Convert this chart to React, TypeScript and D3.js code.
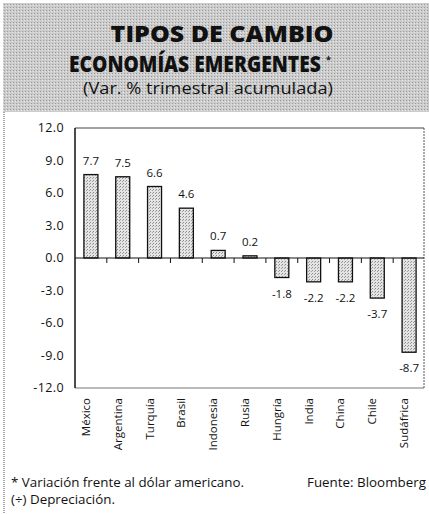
import React, { useLayoutEffect, useRef, useState } from "react";
import * as d3 from "d3";

const categories = ["México", "Argentina", "Turquía", "Brasil", "Indonesia", "Rusia", "Hungría", "India", "China", "Chile", "Sudáfrica"];
const values = [7.7, 7.5, 6.6, 4.6, 0.7, 0.2, -1.8, -2.2, -2.2, -3.7, -8.7];
const yTicks = [12, 9, 6, 3, 0, -3, -6, -9, -12];
const titleLines = ["TIPOS DE CAMBIO", "ECONOMÍAS EMERGENTES"];
const subtitle = "(Var. % trimestral acumulada)";
const footnotes = ["* Variación frente al dólar americano.", "(÷) Depreciación."];
const source = "Fuente: Bloomberg";

const W = 429;
const H = 514;
const plot = { left: 75, right: 425, top: 128, bottom: 388 };

function FitText(props: { x: number; y: number; width: number; children: string; fontSize: number; fontWeight?: number; fontFamily: string; anchor?: "start" | "middle" }) {
  const ref = useRef<SVGTextElement>(null);
  const [sx, setSx] = useState(1);
  useLayoutEffect(() => {
    if (ref.current) {
      const len = ref.current.getComputedTextLength();
      if (len > 0) setSx(props.width / len);
    }
  }, [props.width, props.children]);
  return (
    <text
      ref={ref}
      transform={`translate(${props.x},${props.y}) scale(${sx},1)`}
      textAnchor={props.anchor || "start"}
      fontFamily={props.fontFamily}
      fontWeight={props.fontWeight || 400}
      fontSize={props.fontSize}
      fill="#111"
    >
      {props.children}
    </text>
  );
}

export default function App() {
  const x = d3.scaleBand<string>().domain(categories).range([plot.left, plot.right]).paddingInner(0.56).paddingOuter(0.28);
  const y = d3.scaleLinear().domain([-12, 12]).range([plot.bottom, plot.top]);
  const step = x.step();
  const bw = x.bandwidth();
  const y0 = y(0);
  const sans = "'Open Sans', 'Lato', sans-serif";

  return (
    <svg width={W} height={H} style={{ position: "absolute", left: 0, top: 0, background: "#fff" }}>
      <defs>
        <pattern id="dots" width="3" height="3" patternUnits="userSpaceOnUse">
          <rect width="3" height="3" fill="#e4e4e4" />
          <rect x="0" y="0" width="1" height="1" fill="#8a8a8a" />
          <rect x="2" y="1" width="1" height="1" fill="#a0a0a0" />
        </pattern>
        <pattern id="hdr" width="3" height="3" patternUnits="userSpaceOnUse">
          <rect width="3" height="3" fill="#cbcbcb" />
          <rect x="1" y="1" width="1" height="1" fill="#9c9c9c" />
          <rect x="0" y="2" width="1" height="1" fill="#e8e8e8" />
        </pattern>
      </defs>
      {/* header */}
      <rect x={3} y={3} width={W - 3} height={109} fill="url(#hdr)" />
      <line x1={4} x2={4} y1={112} y2={H} stroke="#555" strokeWidth={1} strokeDasharray="1 1" />
      <FitText x={222} y={42} width={223} anchor="middle" fontFamily={sans} fontWeight={800} fontSize={23}>{titleLines[0]}</FitText>
      <FitText x={69} y={72} width={252} fontFamily={sans} fontWeight={800} fontSize={23}>{titleLines[1]}</FitText>
      <text x={326} y={63} fontFamily={sans} fontWeight={700} fontSize={9} fill="#111">*</text>
      <FitText x={208} y={94} width={250} anchor="middle" fontFamily={sans} fontSize={16}>{subtitle}</FitText>

      {/* plot frame */}
      <line x1={plot.left} x2={plot.right - 1} y1={plot.top} y2={plot.top} stroke="#444" strokeWidth={1} />
      <line x1={plot.left} x2={plot.right - 1} y1={plot.bottom} y2={plot.bottom} stroke="#777" strokeWidth={1} />
      <line x1={plot.right - 1} x2={plot.right - 1} y1={plot.top} y2={plot.bottom} stroke="#555" strokeWidth={1} strokeDasharray="2 1" />
      <line x1={plot.left} x2={plot.left} y1={plot.top} y2={plot.bottom} stroke="#111" strokeWidth={1.5} />

      {/* y tick labels */}
      {yTicks.map((t) => (
        <text key={t} x={64} y={y(t)} dy="0.35em" textAnchor="end" fontFamily={sans} fontSize={12.5} fill="#111" letterSpacing={0.4}>
          {t.toFixed(1)}
        </text>
      ))}

      {/* bars */}
      {categories.map((c, i) => {
        const v = values[i];
        const top = y(Math.max(0, v));
        const h = Math.abs(y(v) - y0);
        return (
          <rect key={c} x={x(c)!} y={top} width={bw} height={h} fill="url(#dots)" stroke="#111" strokeWidth={1.3} />
        );
      })}

      {/* zero line and ticks */}
      <line x1={plot.left} x2={plot.right - 1} y1={y0} y2={y0} stroke="#111" strokeWidth={1.2} />
      {categories.slice(1).map((c, i) => (
        <line key={c} x1={plot.left + (i + 1) * step} x2={plot.left + (i + 1) * step} y1={y0} y2={y0 + 5} stroke="#111" strokeWidth={1} />
      ))}

      {/* value labels */}
      {categories.map((c, i) => {
        const v = values[i];
        const cx = x(c)! + bw / 2;
        const ly = v >= 0 ? y(v) - 14 : y(v) + 16;
        return (
          <text key={c} x={cx} y={ly} dy="0.35em" textAnchor="middle" fontFamily={sans} fontSize={11.5} fill="#111">
            {v.toFixed(1)}
          </text>
        );
      })}

      {/* category labels */}
      {categories.map((c) => {
        const cx = x(c)! + bw / 2 - 5;
        return (
          <text key={c} transform={`translate(${cx},${plot.bottom + 10}) rotate(-90)`} dy="0.35em" textAnchor="end" fontFamily={sans} fontSize={11.5} fill="#111">
            {c}
          </text>
        );
      })}

      {/* footer */}
      <FitText x={11} y={487} width={233} fontFamily={sans} fontSize={12}>{footnotes[0]}</FitText>
      <FitText x={11} y={504} width={104} fontFamily={sans} fontSize={12}>{footnotes[1]}</FitText>
      <FitText x={307} y={487} width={119} fontFamily={sans} fontSize={12.5}>{source}</FitText>
    </svg>
  );
}
